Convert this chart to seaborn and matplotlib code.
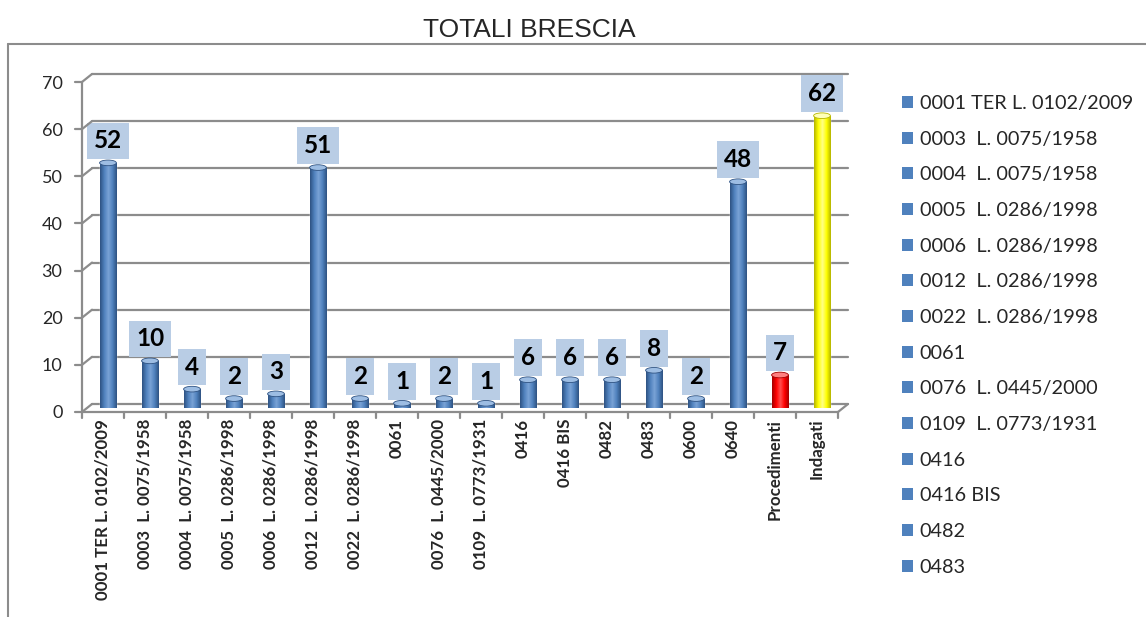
import matplotlib

matplotlib.use("Agg")
import matplotlib.pyplot as plt
import numpy as np
import pandas as pd
import seaborn as sns
from matplotlib import transforms
from matplotlib.colors import LinearSegmentedColormap
from matplotlib.lines import Line2D
from matplotlib.patches import Ellipse, Patch

CATEGORIES = [
    "0001 TER L. 0102/2009",
    "0003  L. 0075/1958",
    "0004  L. 0075/1958",
    "0005  L. 0286/1998",
    "0006  L. 0286/1998",
    "0012  L. 0286/1998",
    "0022  L. 0286/1998",
    "0061",
    "0076  L. 0445/2000",
    "0109  L. 0773/1931",
    "0416",
    "0416 BIS",
    "0482",
    "0483",
    "0600",
    "0640",
    "Procedimenti",
    "Indagati",
]
VALUES = [52, 10, 4, 2, 3, 51, 2, 1, 2, 1, 6, 6, 6, 8, 2, 48, 7, 62]
Y_TICKS = [0, 10, 20, 30, 40, 50, 60, 70]
LEGEND_SHOWN = 14  # the original legend is cut off after "0483"

BLUE = "#4f81bd"
RED = "#ff0000"
YELLOW = "#ffff00"
GRID = "#8c8c8c"
BOX = "#b9cde5"
SHADES = {
    BLUE: ("#2e5282", "#7aa3d6", "#9dbde3"),
    RED: ("#a30000", "#ff5050", "#ff8080"),
    YELLOW: ("#b5b500", "#ffff8a", "#ffffb8"),
}

W, H = 1146, 617


def bar_color(name):
    if name == "Procedimenti":
        return RED
    if name == "Indagati":
        return YELLOW
    return BLUE


def fig_line(fig, p, q, **kw):
    # p, q are display points (pixels)
    fig.add_artist(Line2D([p[0] / W, q[0] / W], [p[1] / H, q[1] / H],
                          transform=fig.transFigure, color=GRID, lw=1.6, **kw))


def main():
    sns.set_theme(style="white")
    plt.rcParams["font.family"] = ["Lato", "DejaVu Sans"]

    df = pd.DataFrame({"categoria": CATEGORIES, "valore": VALUES})
    palette = {c: bar_color(c) for c in CATEGORIES}

    fig = plt.figure(figsize=(W / 100, H / 100), dpi=100)
    ax = fig.add_axes([87 / W, 209 / H, 756 / W, 330 / H])

    sns.barplot(data=df, x="categoria", y="valore", hue="categoria", palette=palette,
                legend=False, width=0.4, saturation=1, ax=ax, zorder=2)
    n = len(CATEGORIES)
    ax.set_xlim(-0.5, n - 0.5)
    ax.set_ylim(0, 70)
    for s in ax.spines.values():
        s.set_visible(False)
    ax.set_xlabel("")
    ax.set_ylabel("")
    ax.patch.set_alpha(0)

    front = transforms.offset_copy(ax.transData, fig=fig, x=-5, y=-4, units="dots")
    back = transforms.offset_copy(ax.transData, fig=fig, x=5, y=4, units="dots")

    # back wall gridlines
    for v in Y_TICKS:
        ax.plot([-0.5, n - 0.5], [v, v], transform=back, color=GRID, lw=1.6,
                zorder=0.5, clip_on=False)

    # cylinder shading
    bars = list(ax.patches)
    for patch, name in zip(bars, CATEGORIES):
        base = bar_color(name)
        dark, mid, light = SHADES[base]
        cmap = LinearSegmentedColormap.from_list("cyl", [dark, base, mid, base, dark])
        x0, w, h = patch.get_x(), patch.get_width(), patch.get_height()
        im = ax.imshow(np.linspace(0, 1, 64)[None, :], cmap=cmap, aspect="auto",
                       extent=[x0, x0 + w, 0, h], zorder=3)
        im.set_clip_path(patch)
        ax.add_patch(Ellipse((x0 + w / 2, h), w, 1.2, facecolor=light,
                             edgecolor=dark, lw=0.6, zorder=4))
    ax.set_xlim(-0.5, n - 0.5)
    ax.set_ylim(0, 70)

    # ticks and labels
    ax.set_xticks(range(n))
    ax.set_xticklabels(CATEGORIES, rotation=90, fontweight="bold", fontsize=12.2)
    ax.set_yticks(Y_TICKS)
    ax.set_yticklabels([str(v) for v in Y_TICKS], fontsize=13)
    ax.tick_params(axis="x", length=0, pad=5)
    ax.tick_params(axis="y", length=0, pad=14)
    shift = transforms.ScaledTranslation(-5 / 100, -4 / 100, fig.dpi_scale_trans)
    for lbl in ax.get_xticklabels() + ax.get_yticklabels():
        lbl.set_transform(lbl.get_transform() + shift)

    # front axis frame
    fp = lambda x, y: front.transform((x, y))
    bp = lambda x, y: back.transform((x, y))
    fig_line(fig, fp(-0.5, 0), fp(-0.5, 70))
    fig_line(fig, fp(-0.5, 0), fp(n - 0.5, 0))
    fig_line(fig, fp(n - 0.5, 0), bp(n - 0.5, 0))
    for v in Y_TICKS:
        p = fp(-0.5, v)
        fig_line(fig, (p[0] - 7, p[1]), p)
        fig_line(fig, p, bp(-0.5, v))
    for k in range(n + 1):
        p = fp(k - 0.5, 0)
        fig_line(fig, p, (p[0], p[1] - 6))

    # value labels
    for x, v in enumerate(VALUES):
        ax.annotate(str(v), xy=(x, v), xytext=(0, 22), textcoords="offset pixels",
                    ha="center", va="center", fontsize=17.5, fontweight="bold",
                    color="black", zorder=6, annotation_clip=False,
                    bbox=dict(boxstyle="square,pad=0.28", fc=BOX, ec="none"))

    # legend
    handles = [Patch(facecolor=BLUE, edgecolor="none") for _ in range(LEGEND_SHOWN)]
    fig.legend(handles, CATEGORIES[:LEGEND_SHOWN], loc="upper left",
               bbox_to_anchor=(902 / W, 1 - 95 / H), frameon=False, fontsize=14.3,
               handlelength=0.55, handleheight=0.55, handletextpad=0.35,
               labelspacing=0.94, borderpad=0, borderaxespad=0)

    # title and outer chart frame
    fig.text(529 / W, 1 - 30 / H, "TOTALI BRESCIA", ha="center", va="center",
             fontsize=19, family="Liberation Sans")
    fig.add_artist(Line2D([8 / W, 8 / W], [0, 1 - 44 / H], transform=fig.transFigure,
                          color=GRID, lw=1.5))
    fig.add_artist(Line2D([8 / W, 1], [1 - 44 / H, 1 - 44 / H], transform=fig.transFigure,
                          color=GRID, lw=1.5))

    fig.savefig("out.png", dpi=100, facecolor="white")


if __name__ == "__main__":
    main()
